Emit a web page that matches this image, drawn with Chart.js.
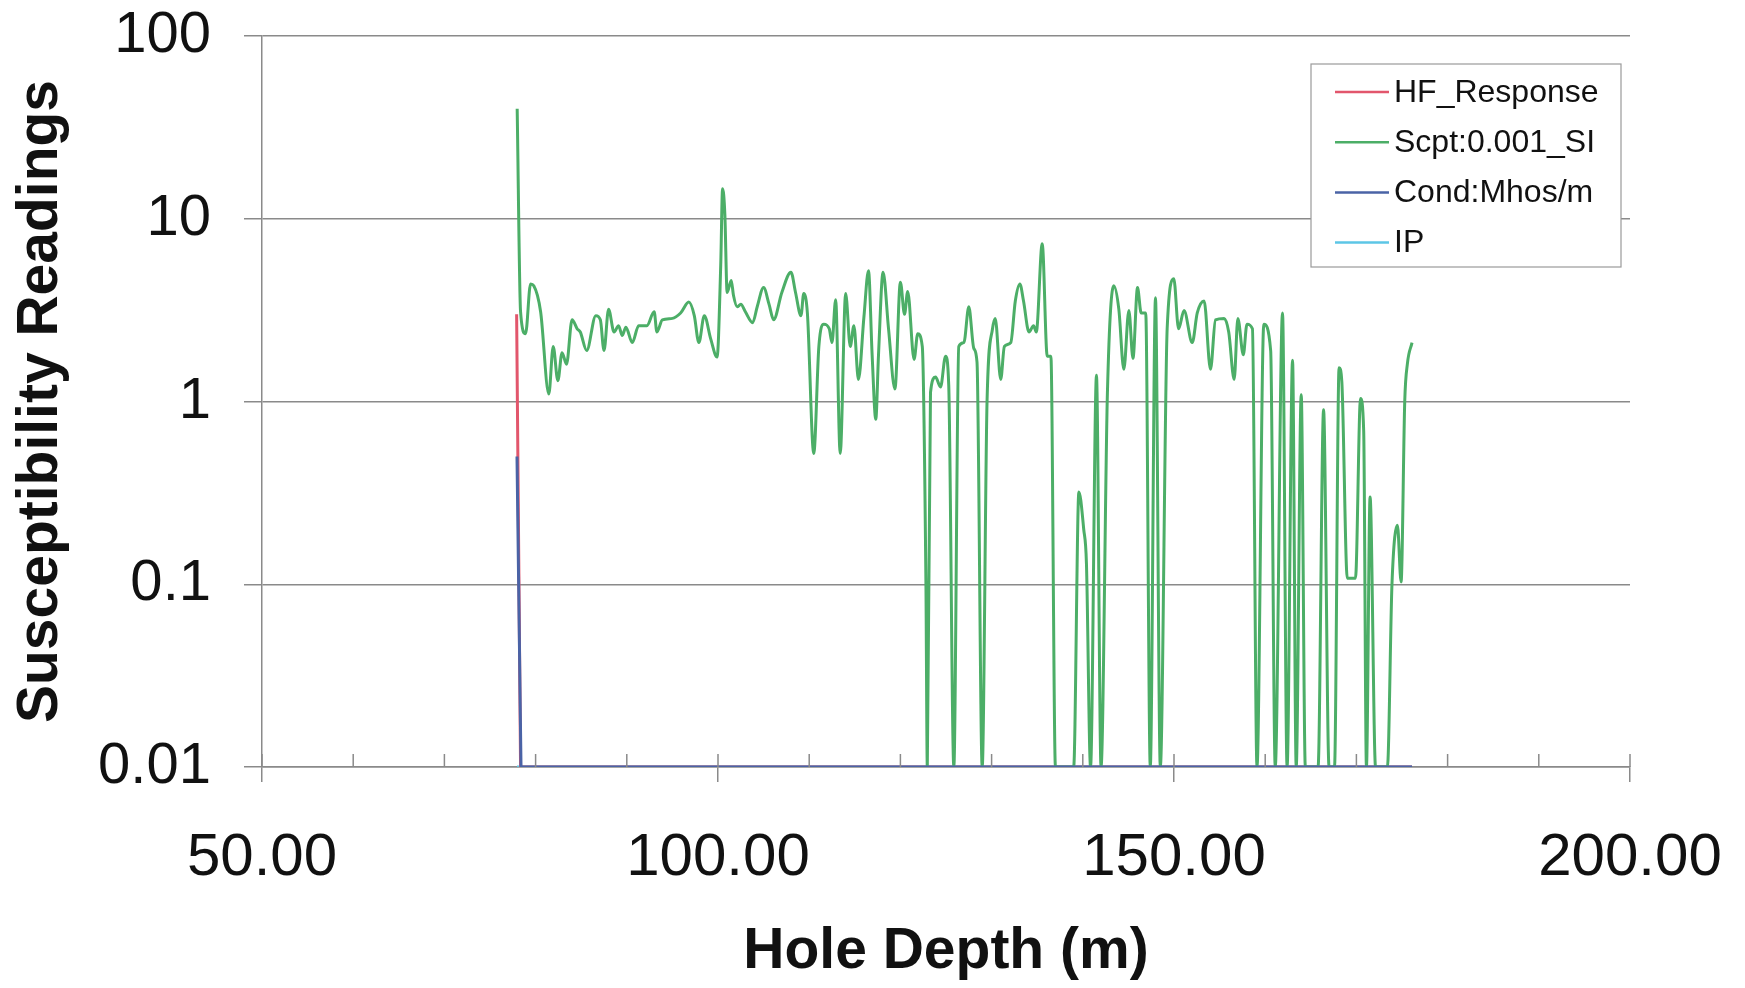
<!DOCTYPE html>
<html><head><meta charset="utf-8">
<script src="https://cdn.jsdelivr.net/npm/chart.js@4/dist/chart.umd.min.js"></script>
<style>html,body{margin:0;padding:0;background:#fff;}#wrap{width:1745px;height:988px;}</style>
</head><body><div id="wrap"><canvas id="c" width="1745" height="988"></canvas></div>
<script>
const seriesNames = ['HF_Response', 'Scpt:0.001_SI', 'Cond:Mhos/m', 'IP'];
const hfDepth = [77.92, 78.35, 176.1];
const hfValue = [3.0, 0.01, 0.01];
const scptDepth = [77.98,78.35,78.9,79.45,79.8,80.55,81.45,81.93,82.44,82.9,83.39,84.0,84.56,84.9,85.6,86.6,87.1,87.5,88.0,88.6,89.1,89.5,89.9,90.6,91.3,92.2,93.0,93.3,93.9,95.0,95.9,96.8,97.4,97.9,98.5,99.2,99.9,100.3,100.5,100.75,101.0,101.45,101.7,102.1,102.5,103.0,103.8,104.3,105.0,105.6,106.1,107.0,108.0,108.5,109.1,109.4,109.8,110.5,111.06,111.6,112.2,112.5,112.9,113.4,114.0,114.5,114.9,115.4,116.0,116.5,116.9,117.3,117.6,118.1,118.7,119.4,120.0,120.45,120.8,121.5,121.9,122.4,122.8,122.95,123.3,123.85,124.4,124.95,125.3,125.86,126.4,126.96,127.5,128.05,128.4,128.97,129.5,130.1,130.4,131.0,131.4,132.1,132.6,133.1,133.5,134.1,134.6,134.9,135.55,136.1,136.5,137.0,139.0,139.57,140.1,140.4,140.85,141.5,142.0,142.7,143.4,143.95,144.5,145.05,145.5,146.0,146.4,146.9,147.4,147.97,148.5,149.25,149.98,150.5,151.1,152.0,152.55,153.3,154.0,154.55,155.5,156.0,156.6,157.0,157.6,158.0,158.6,159.1,159.85,160.6,161.1,161.9,162.4,163.0,163.4,163.95,164.4,165.8,166.4,167.0,167.6,168.1,168.4,169.0,169.9,170.45,170.8,171.1,171.5,172.1,173.4,173.9,174.5,174.9,175.3,175.6,176.1];
const scptValue = [40,3.1,2.35,4.4,4.3,3.1,1.1,2.0,1.3,1.85,1.6,2.8,2.5,2.4,1.9,2.95,2.8,1.9,3.2,2.4,2.6,2.3,2.55,2.1,2.6,2.6,3.1,2.4,2.8,2.85,3.05,3.5,2.95,2.1,2.95,2.2,1.75,5.6,14.6,10.6,3.95,4.6,3.8,3.3,3.4,3.1,2.7,3.3,4.2,3.4,2.8,3.95,5.1,3.95,2.95,3.9,3.05,0.52,2.0,2.65,2.5,2.1,3.6,0.52,3.9,2.0,2.6,1.32,2.9,5.2,1.8,0.8,1.8,5.1,2.5,1.17,4.5,3.0,4.0,1.7,2.35,2.0,0.1,0.01,1.12,1.36,1.2,1.77,1.23,0.01,2.0,2.1,3.3,1.95,1.64,0.01,1.0,2.5,2.85,1.32,2.0,2.1,3.55,4.4,3.55,2.4,2.6,2.4,7.3,1.77,1.77,0.01,0.01,0.32,0.2,0.13,0.01,1.39,0.01,1.12,4.3,3.2,1.5,3.15,1.72,4.2,3.05,3.05,0.01,3.7,0.01,2.5,4.7,2.5,3.15,2.1,3.05,3.55,1.5,2.8,2.85,2.4,1.32,2.85,1.8,2.65,2.5,0.01,2.65,1.9,0.01,3.05,0.01,1.68,0.01,1.09,0.01,0.01,0.9,0.01,0.01,1.53,1.29,0.108,0.108,1.04,0.69,0.01,0.3,0.01,0.01,0.1,0.21,0.103,1.0,1.62,2.1];
const condDepth = [77.96, 78.4, 176.1];
const condValue = [0.5, 0.01, 0.01];
const ipDepth = [77.96, 176.1];
const ipValue = [0.01, 0.01];
const yTickValues = [0.01, 0.1, 1, 10, 100];
const xMin = 50, xMax = 200, xStep = 10, xLabelEvery = 50;

const seriesColors = ['#e2566c', '#4cae67', '#4a63a6', '#5cc6e6'];
const FONT = "'Liberation Sans', Arial, sans-serif";
const GRID = '#8a8a8a';

function pts(d, v) { return d.map((x, i) => ({x: x, y: v[i]})); }

const boxLegend = {
  id: 'boxLegend',
  afterDraw(chart, args, o) {
    const ctx = chart.ctx, ca = chart.chartArea;
    const x = ca.right - o.right - o.width, y = ca.top + o.top;
    ctx.save();
    ctx.fillStyle = '#fff';
    ctx.fillRect(x, y, o.width, o.height);
    ctx.strokeStyle = '#9a9a9a'; ctx.lineWidth = 1.2;
    ctx.strokeRect(x, y, o.width, o.height);
    ctx.font = o.fontSize + 'px ' + FONT;
    ctx.textBaseline = 'middle'; ctx.textAlign = 'left';
    chart.data.datasets.forEach((ds, i) => {
      const cy = y + o.firstRow + i * o.rowGap;
      ctx.strokeStyle = ds.borderColor; ctx.lineWidth = 2.5;
      ctx.beginPath(); ctx.moveTo(x + o.lineStart, cy); ctx.lineTo(x + o.lineStart + o.lineLen, cy); ctx.stroke();
      ctx.fillStyle = '#111';
      ctx.fillText(ds.label, x + o.textStart, cy + 1);
    });
    ctx.restore();
  }
};

const innerTicks = {
  id: 'innerTicks',
  afterDraw(chart) {
    const sx = chart.scales.x, ctx = chart.ctx, b = chart.chartArea.bottom;
    ctx.save(); ctx.strokeStyle = GRID; ctx.lineWidth = 1.5;
    sx.ticks.forEach(t => {
      const px = sx.getPixelForValue(t.value);
      ctx.beginPath(); ctx.moveTo(px, b); ctx.lineTo(px, b - 13); ctx.stroke();
    });
    ctx.restore();
  }
};

new Chart(document.getElementById('c'), {
  type: 'line',
  data: {
    datasets: [
      {label: seriesNames[0], data: pts(hfDepth, hfValue), borderColor: seriesColors[0], borderWidth: 3, tension: 0, order: 2},
      {label: seriesNames[1], data: pts(scptDepth, scptValue), borderColor: seriesColors[1], borderWidth: 3, cubicInterpolationMode: 'monotone', order: 1},
      {label: seriesNames[2], data: pts(condDepth, condValue), borderColor: seriesColors[2], borderWidth: 3, tension: 0, order: 0},
      {label: seriesNames[3], data: pts(ipDepth, ipValue), borderColor: seriesColors[3], borderWidth: 3, tension: 0, order: 3}
    ]
  },
  options: {
    responsive: false,
    animation: false,
    layout: {padding: {left: 0, right: 115, top: 36, bottom: 0}},
    elements: {point: {radius: 0}},
    plugins: {
      legend: {display: false},
      tooltip: {enabled: false},
      boxLegend: {right: 9, top: 28, width: 310, height: 203, firstRow: 28, rowGap: 50.2, lineStart: 24, lineLen: 54, textStart: 83, fontSize: 32}
    },
    scales: {
      x: {
        type: 'linear', min: xMin, max: xMax,
        afterFit(s) { s.height = 221; s.paddingLeft = 0; s.paddingRight = 0; s.paddingTop = 0; s.paddingBottom = 0; },
        ticks: {
          stepSize: xStep, autoSkip: false, maxRotation: 0, padding: 40,
          color: '#111', font: {family: FONT, size: 60},
          callback: v => (v % xLabelEvery === 0 ? v.toFixed(2) : '')
        },
        grid: {
          drawOnChartArea: false, drawTicks: true, tickLength: 15, lineWidth: 1.5,
          tickColor: c => (c.tick && c.tick.value % xLabelEvery === 0 ? GRID : 'rgba(0,0,0,0)')
        },
        border: {display: true, color: GRID, width: 1.5},
        title: {display: true, text: 'Hole Depth (m)', color: '#111', font: {family: FONT, size: 57, weight: 'bold'}, padding: {top: 0, bottom: 2}}
      },
      y: {
        type: 'logarithmic', min: yTickValues[0], max: yTickValues[yTickValues.length - 1],
        afterFit(s) { s.width = 262; s.paddingLeft = 0; s.paddingRight = 0; s.paddingTop = 0; s.paddingBottom = 0; },
        afterBuildTicks(s) { s.ticks = yTickValues.map(v => ({value: v})); },
        ticks: {color: '#111', padding: 33, font: {family: FONT, size: 58}, callback: v => String(v)},
        grid: {color: GRID, lineWidth: 1.5, tickLength: 18},
        border: {display: true, color: GRID, width: 1.5},
        title: {display: true, text: 'Susceptibility Readings', color: '#111', font: {family: FONT, size: 57, weight: 'bold'}, padding: {top: 7, bottom: 0}}
      }
    }
  },
  plugins: [boxLegend, innerTicks]
});
</script></body></html>
